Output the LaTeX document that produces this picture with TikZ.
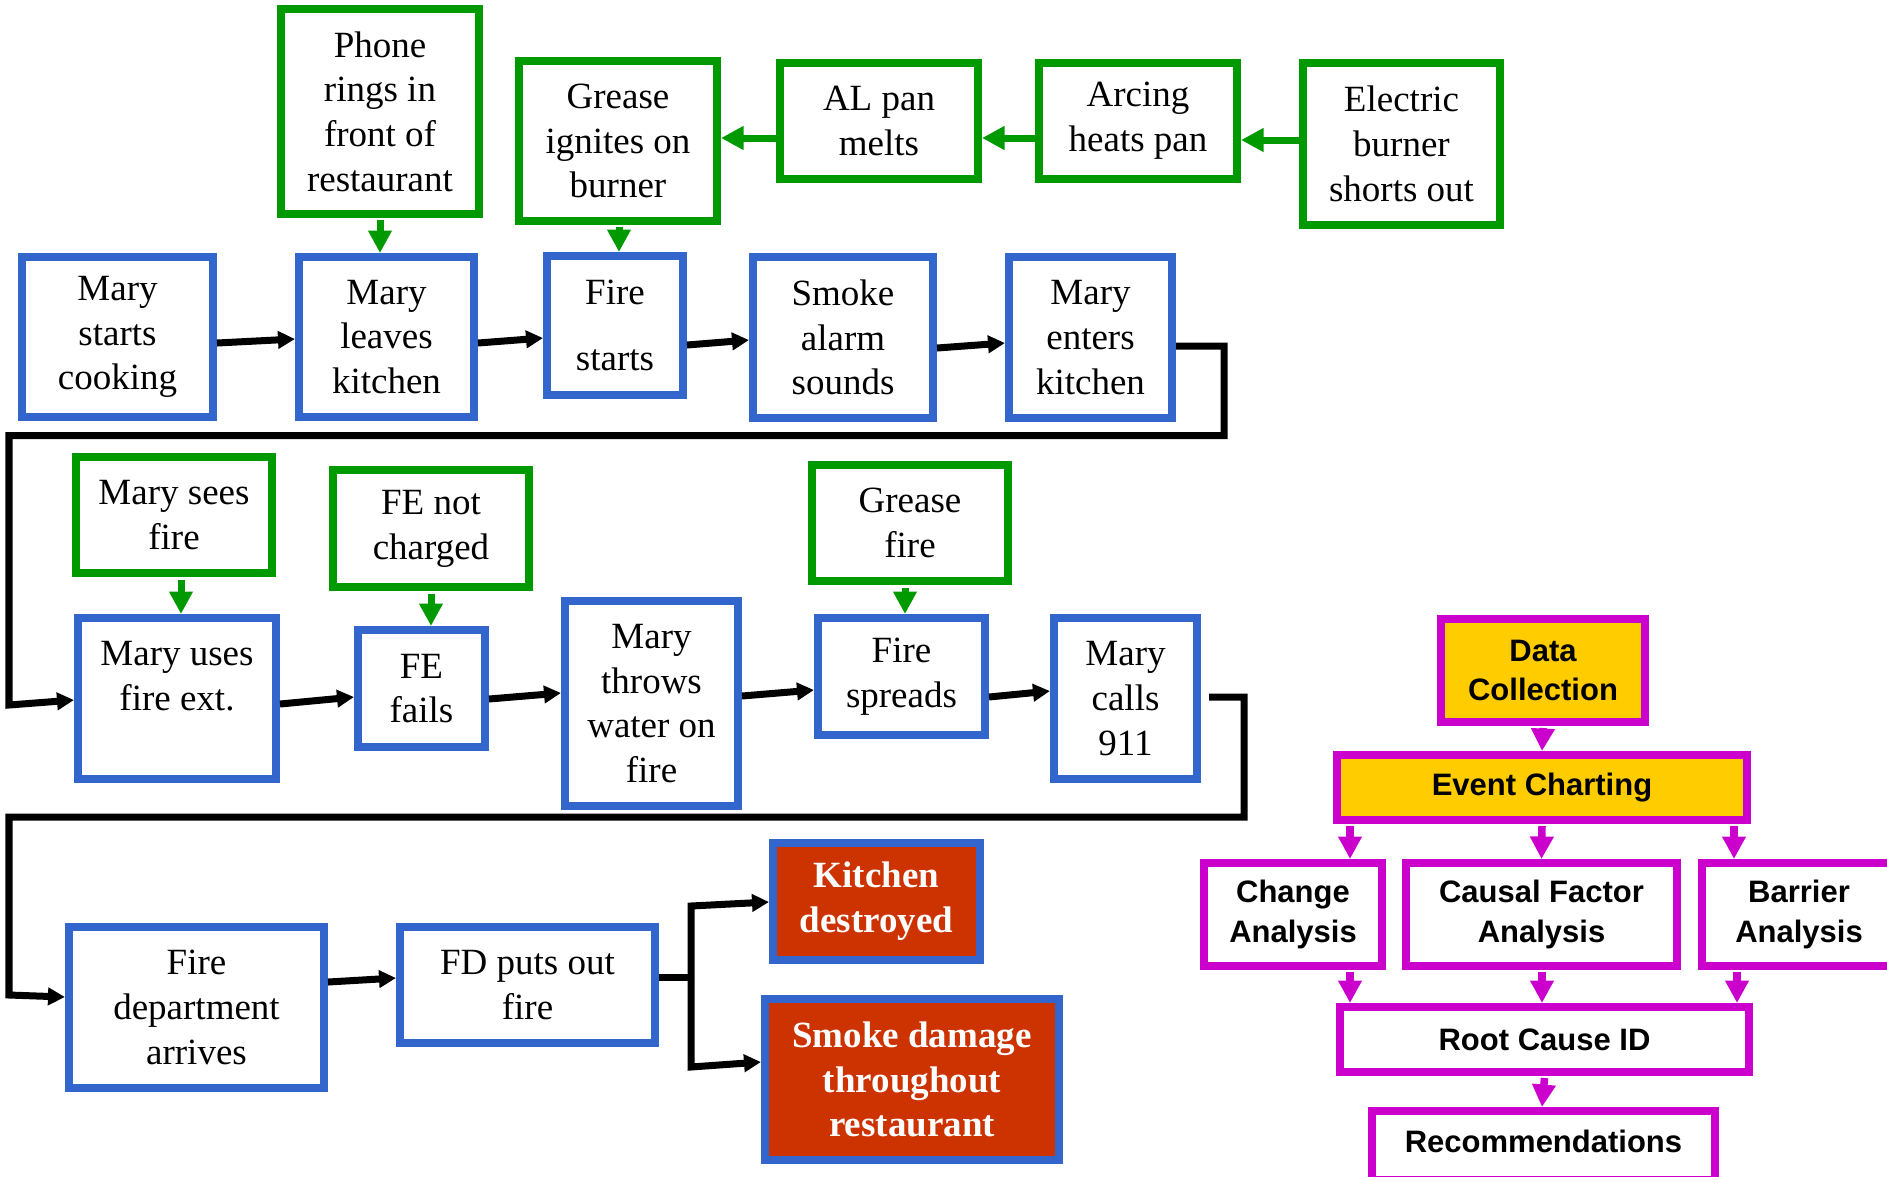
\documentclass[tikz,border=0pt]{standalone}
\usepackage{fontspec}
\setmainfont{Liberation Serif}
\newfontfamily\sansfnt{Liberation Sans}
\usetikzlibrary{arrows.meta,calc}
\definecolor{cgreen}{RGB}{0,153,0}
\definecolor{cblue}{RGB}{51,102,204}
\definecolor{cmag}{RGB}{204,0,204}
\definecolor{cyel}{RGB}{255,204,0}
\definecolor{cred}{RGB}{204,51,0}
\newcommand{\mkbox}[7]{%
  \pgfmathsetmacro\bcx{(#3+#5)/2}%
  \pgfmathsetmacro\bcy{(#4+#6)/2}%
  \pgfmathsetmacro\bw{(#5-#3-8)*0.4}%
  \pgfmathsetmacro\bh{(#6-#4-8)*0.4}%
  \node[#2, minimum width=\bw pt, minimum height=\bh pt] (#1) at (\bcx,\bcy) {#7};}
\tikzset{
  every node/.style={align=center, inner sep=0pt},
  serif/.style={font=\fontsize{14.8}{17.9}\selectfont},
  gbox/.style={draw=cgreen, line width=3.2pt, fill=white, serif},
  bbox/.style={draw=cblue, line width=3.2pt, fill=white, serif},
  rbox/.style={draw=cblue, fill=cred, text=white, line width=3.2pt, font=\fontsize{14.8}{17.9}\selectfont\bfseries},
  mbox/.style={draw=cmag, line width=3.2pt, fill=white, font=\sansfnt\bfseries\fontsize{12.4}{15.8}\selectfont},
  ybox/.style={mbox, fill=cyel},
  conn/.style={line width=2.8pt, line join=miter},
  arr/.style={conn, -{Triangle[width=6.8pt,length=6.8pt]}},
  garr/.style={draw=cgreen, line width=2.8pt, -{Triangle[width=9pt,length=9pt]}},
  marr/.style={draw=cmag, line width=3pt, -{Triangle[width=9pt,length=9pt]}},
}
\begin{document}
\begin{tikzpicture}[x=0.4pt,y=-0.4pt]
\useasboundingbox (0,0) rectangle (1887,1176);
% green boxes
\mkbox{phone}{gbox}{277}{5}{483}{218}{Phone\\rings in\\front of\\restaurant}
\mkbox{gi}{gbox}{515}{57}{721}{225}{Grease\\ignites on\\burner}
\mkbox{al}{gbox}{776}{59}{982}{183}{AL pan\\melts}
\mkbox{arc}{gbox}{1035}{59}{1241}{183}{Arcing\\heats pan}
\mkbox{elec}{gbox}{1299}{59}{1504}{229}{Electric\\burner\\shorts out}
\mkbox{sees}{gbox}{72}{453}{276}{577}{Mary sees\\fire}
\mkbox{fenc}{gbox}{329}{466}{533}{591}{FE not\\charged}
\mkbox{gf}{gbox}{808}{461}{1012}{585}{Grease\\fire}
% blue boxes
\mkbox{cook}{bbox}{18}{253}{217}{421}{Mary\\starts\\cooking}
\mkbox{leave}{bbox}{295}{253}{478}{421}{Mary\\leaves\\kitchen}
\mkbox{fs}{bbox}{543}{252}{687}{399}{Fire\\[8.8pt]starts}
\mkbox{smoke}{bbox}{749}{253}{937}{422}{Smoke\\alarm\\sounds}
\mkbox{enter}{bbox}{1005}{253}{1176}{422}{Mary\\enters\\kitchen}
\mkbox{uses}{bbox}{74}{614}{280}{783}{Mary uses\\fire ext.\\\mbox{}}
\mkbox{fails}{bbox}{354}{626}{489}{751}{FE\\fails}
\mkbox{throws}{bbox}{561}{597}{742}{810}{Mary\\throws\\water on\\fire}
\mkbox{spreads}{bbox}{814}{614}{989}{739}{Fire\\spreads}
\mkbox{calls}{bbox}{1050}{614}{1201}{783}{Mary\\calls\\911}
\mkbox{dept}{bbox}{65}{923}{328}{1092}{Fire\\department\\arrives}
\mkbox{fd}{bbox}{396}{923}{659}{1047}{FD puts out\\fire}
% red boxes
\mkbox{kit}{rbox}{769}{839}{984}{964}{Kitchen\\destroyed}
\mkbox{smk}{rbox}{761}{995}{1063}{1164}{Smoke damage\\throughout\\restaurant}
% magenta boxes
\mkbox{dc}{ybox}{1437}{615}{1649}{726}{Data\\Collection}
\mkbox{ec}{ybox}{1333}{751}{1751}{824}{Event Charting}
\mkbox{ca}{mbox}{1200}{859}{1386}{970}{Change\\Analysis}
\mkbox{cf}{mbox}{1402}{859}{1681}{970}{Causal Factor\\Analysis}
\mkbox{ba}{mbox}{1698}{859}{1900}{970}{Barrier\\Analysis}
\mkbox{rc}{mbox}{1336}{1003}{1753}{1076}{Root Cause ID}
\mkbox{rec}{mbox}{1368}{1107}{1719}{1184}{\raisebox{1.6pt}[\height][\depth]{Recommendations}}
% route coordinates
\coordinate (r1a) at (1224,435.5);
\coordinate (r1b) at (9,435.5);
\coordinate (r1c) at (9,705);
\coordinate (r2a) at (1244,817);
\coordinate (r2b) at (9,817);
\coordinate (r2c) at (9,995);
\coordinate (br) at (691,977);
\coordinate (brt) at (691,906);
\coordinate (brb) at (691,1067);
% row 1 black arrows
\draw[arr] ($(cook.east)+(0,6)$) -- ($(leave.west)+(0,2)$);
\draw[arr] ($(leave.east)+(0,6)$) -- ($(fs.west)+(0,12.5)$);
\draw[arr] ($(fs.east)+(0,19.5)$) -- ($(smoke.west)+(0,2.5)$);
\draw[arr] ($(smoke.east)+(0,10.5)$) -- ($(enter.west)+(0,5.5)$);
\draw[arr] ($(enter.east)+(0,8.5)$) -| (r1a) -- (r1b) -- (r1c) -- ($(uses.west)+(0,1.5)$);
% row 2 black arrows
\draw[arr] ($(uses.east)+(0,5.5)$) -- ($(fails.west)+(0,8.5)$);
\draw[arr] ($(fails.east)+(0,10.5)$) -- ($(throws.west)+(0,-10.5)$);
\draw[arr] ($(throws.east)+(0,-7.5)$) -- ($(spreads.west)+(0,13.5)$);
\draw[arr] ($(spreads.east)+(0,20.5)$) -- ($(calls.west)+(0,-7.5)$);
\draw[arr] ($(calls.east)+(8,-1.5)$) -| (r2a) -- (r2b) -- (r2c) -- ($(dept.west)+(0,-10.5)$);
% row 3
\draw[arr] ($(dept.east)+(0,-25.5)$) -- ($(fd.west)+(0,-7)$);
\draw[conn] ($(fd.east)+(0,-8)$) -- (br);
\draw[arr] (br) -- (brt) -- ($(kit.west)+(0,0.5)$);
\draw[arr] (br) -- (brb) -- ($(smk.west)+(0,-17.5)$);
% green arrows
\draw[garr] ($(phone.south)+(0,2)$) -- ($(leave.north)+(-6.5,0)$);
\draw[garr] ($(gi.south)+(1,2)$) -- ($(fs.north)+(4,0)$);
\draw[garr] ($(al.west)+(0,17)$) -- ($(gi.east)+(0,-3)$);
\draw[garr] ($(arc.west)+(0,17)$) -- ($(al.east)+(0,17)$);
\draw[garr] ($(elec.west)+(0,-4)$) -- ($(arc.east)+(0,19)$);
\draw[garr] ($(sees.south)+(7,3)$) -- ($(uses.north)+(4,0)$);
\draw[garr] ($(fenc.south)+(0,3)$) -- ($(fails.north)+(9.5,0)$);
\draw[garr] ($(gf.south)+(-5,3)$) -- ($(spreads.north)+(3.5,0)$);
% magenta arrows
\draw[marr] ($(dc.south)+(0,2)$) -- (ec.north);
\draw[marr] ($(ec.south)+(-192,2)$) -- ($(ca.north)+(57,0)$);
\draw[marr] ($(ec.south)+(0,2)$) -- (cf.north);
\draw[marr] ($(ec.south)+(192,2)$) -- ($(ba.north)+(-65,0)$);
\draw[marr] ($(ca.south)+(57,2)$) -- ($(rc.north)+(-194.5,0)$);
\draw[marr] ($(cf.south)+(0.5,2)$) -- ($(rc.north)+(-2.5,0)$);
\draw[marr] ($(ba.south)+(-62,2)$) -- ($(rc.north)+(192.5,0)$);
\draw[marr] ($(rc.south)+(0,2)$) -- ($(rec.north)+(-1.5,0)$);
\end{tikzpicture}
\end{document}
